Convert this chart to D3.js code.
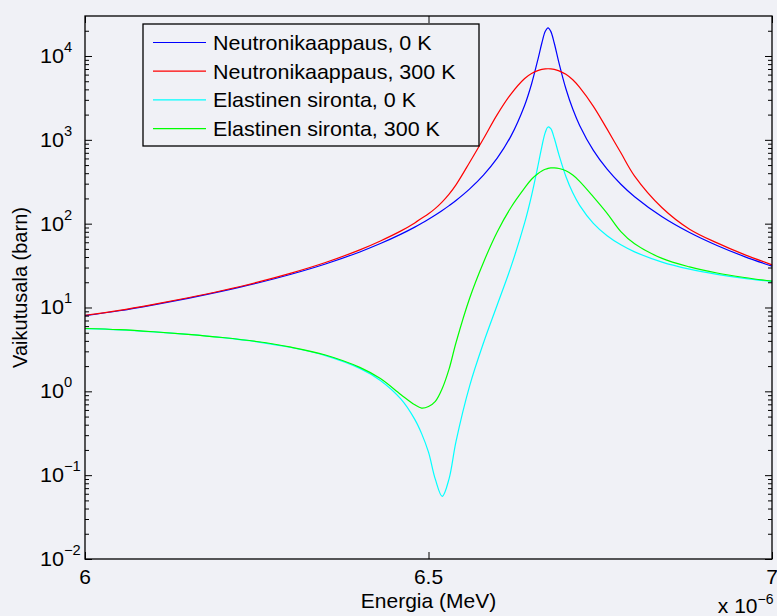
<!DOCTYPE html>
<html>
<head>
<meta charset="utf-8">
<script src="https://cdn.jsdelivr.net/npm/d3@7/dist/d3.min.js"></script>
<style>
  body { margin: 0; background: #f0f1f6; }
  svg { display: block; font-family: "Liberation Sans", Arial, Helvetica, sans-serif; }
</style>
</head>
<body>
<svg id="chart" width="777" height="616"></svg>
<script>
// energy in units of 1e-6 MeV (axis multiplier shown bottom right)
const energy = [6.00, 6.05, 6.10, 6.15, 6.20, 6.25, 6.30, 6.35, 6.40, 6.43, 6.46, 6.48, 6.49,
  6.50, 6.51, 6.52, 6.53, 6.54, 6.56, 6.58, 6.60, 6.62, 6.64, 6.65, 6.66, 6.665, 6.67, 6.674,
  6.678, 6.683, 6.69, 6.70, 6.71, 6.72, 6.74, 6.76, 6.78, 6.80, 6.84, 6.88, 6.92, 6.96, 7.00];

// cross sections in barn
const captureCold = [8.0, 9.14, 10.76, 12.86, 15.65, 19.47, 24.93, 33.06, 46.0, 57.9, 75.0, 91.0, 101.1,
  112.9, 126.9, 143.7, 164.1, 189.1, 260, 379.7, 605, 1108, 2591, 4639, 9637, 14301, 19689, 21700,
  19678, 14281, 8216, 4067, 2329, 1487, 747.7, 446, 295.3, 209.5, 120.8, 78.4, 54.9, 40.5, 31.1];

const captureHot = [8.08, 9.24, 10.90, 13.07, 15.95, 19.94, 25.7, 34.4, 48.7, 62.2, 82, 102, 116,
  131, 152, 182, 225, 290, 540, 1030, 2000, 3520, 5400, 6200, 6740, 6920, 7020, 7050,
  7020, 6920, 6650, 6050, 5200, 4220, 2510, 1340, 700, 370, 155, 86, 59.0, 42.7, 32.3];

const elasticCold = [5.6, 5.42, 5.12, 4.77, 4.37, 3.90, 3.33, 2.67, 1.88, 1.35, 0.806, 0.463, 0.313,
  0.188, 0.089, 0.056, 0.091, 0.251, 1.17, 3.77, 10.7, 30.5, 102.9, 216.4, 522, 831, 1226, 1424,
  1360, 1051, 658, 366, 233.6, 165.5, 100.9, 71.8, 55.9, 46.1, 34.8, 28.7, 24.9, 22.3, 20.46];

const elasticHot = [5.62, 5.44, 5.14, 4.79, 4.39, 3.93, 3.36, 2.71, 1.93, 1.42, 0.91, 0.69, 0.632,
  0.66, 0.76, 1.08, 1.85, 3.8, 13.0, 34.5, 79.6, 156, 267, 339, 400, 425, 445, 457,
  463, 463, 455, 428, 380, 320, 209, 133, 80.5, 57.5, 38.5, 30.5, 25.8, 22.8, 20.6];

const seriesNames = ["Neutronikaappaus, 0 K", "Neutronikaappaus, 300 K",
  "Elastinen sironta, 0 K", "Elastinen sironta, 300 K"];
const seriesValues = [captureCold, captureHot, elasticCold, elasticHot];
const seriesColors = ["#0000ff", "#ff0000", "#00ffff", "#00ff00"];

const yTickExponents = [-2, -1, 0, 1, 2, 3, 4];
const xTickValues = [6, 6.5, 7];
const xTickLabels = ["6", "6.5", "7"];

const W = 777, H = 616;
const margin = {top: 16, right: 5, bottom: 57, left: 85};
const innerLeft = margin.left, innerRight = W - margin.right;
const innerTop = margin.top, innerBottom = H - margin.bottom;

const svg = d3.select("#chart");

const x = d3.scaleLinear().domain([6, 7]).range([innerLeft, innerRight]);
const y = d3.scaleLog().domain([1e-2, 3e4]).range([innerBottom, innerTop]);

// curves
const line = d3.line()
  .x(d => x(d[0]))
  .y(d => y(d[1]))
  .curve(d3.curveCatmullRom.alpha(0.5));

seriesValues.forEach(function(vals, i) {
  svg.append("path")
    .datum(energy.map((e, j) => [e, vals[j]]))
    .attr("fill", "none")
    .attr("stroke", seriesColors[i])
    .attr("stroke-width", 1.2)
    .attr("d", line);
});

// ticks, all pointing inwards on the four sides
const majorVals = yTickExponents.map(e => Math.pow(10, e));
const minorVals = [];
yTickExponents.forEach(function(e) {
  for (let m = 2; m <= 9; m++) {
    const v = m * Math.pow(10, e);
    if (v < 3e4) minorVals.push(v);
  }
});

function tickAxis(axis, tx, ty) {
  const g = svg.append("g")
    .attr("transform", "translate(" + tx + "," + ty + ")")
    .call(axis);
  g.select(".domain").remove();
  g.selectAll("line").attr("stroke", "#000").attr("stroke-width", 1);
  return g;
}

tickAxis(d3.axisLeft(y).tickValues(majorVals).tickSize(-7).tickFormat(""), innerLeft, 0);
tickAxis(d3.axisLeft(y).tickValues(minorVals).tickSize(-4).tickFormat(""), innerLeft, 0);
tickAxis(d3.axisRight(y).tickValues(majorVals).tickSize(-7).tickFormat(""), innerRight, 0);
tickAxis(d3.axisRight(y).tickValues(minorVals).tickSize(-4).tickFormat(""), innerRight, 0);
tickAxis(d3.axisBottom(x).tickValues(xTickValues).tickSize(-7).tickFormat(""), 0, innerBottom);
tickAxis(d3.axisTop(x).tickValues(xTickValues).tickSize(-7).tickFormat(""), 0, innerTop);

// box
svg.append("rect")
  .attr("x", innerLeft).attr("y", innerTop)
  .attr("width", innerRight - innerLeft).attr("height", innerBottom - innerTop)
  .attr("fill", "none").attr("stroke", "#000").attr("stroke-width", 1.3);

// text drawn slightly wider, like the original export
function wideText(sel, tx, ty, sx) {
  return sel.append("text")
    .attr("transform", "translate(" + tx + "," + ty + ") scale(" + sx + ",1)");
}

// y tick labels 10^n
yTickExponents.forEach(function(e) {
  const yy = y(Math.pow(10, e));
  wideText(svg, 64, yy + 7, 1.08)
    .attr("text-anchor", "end")
    .attr("font-size", 20)
    .text("10");
  wideText(svg, 64, yy - 4, 1.05)
    .attr("font-size", 14)
    .text(e < 0 ? "\u2212" + (-e) : String(e));
});

// x tick labels
xTickValues.forEach(function(v, i) {
  wideText(svg, x(v), 584, 1.05)
    .attr("text-anchor", "middle")
    .attr("font-size", 20)
    .text(xTickLabels[i]);
});

// multiplier
wideText(svg, 757.5, 612.5, 1.05)
  .attr("text-anchor", "end")
  .attr("font-size", 20)
  .text("x 10");
wideText(svg, 757.5, 603.5, 1.0)
  .attr("font-size", 14)
  .text("\u22126");

// axis labels
wideText(svg, (innerLeft + innerRight) / 2, 608, 1.05)
  .attr("text-anchor", "middle")
  .attr("font-size", 20)
  .text("Energia (MeV)");

svg.append("text")
  .attr("transform", "translate(27," + ((innerTop + innerBottom) / 2) + ") rotate(-90)")
  .attr("text-anchor", "middle")
  .attr("font-size", 20)
  .text("Vaikutusala (barn)");

// legend
const legend = svg.append("g");
legend.append("rect")
  .attr("x", 143).attr("y", 24)
  .attr("width", 336).attr("height", 122)
  .attr("fill", "#f0f1f6")
  .attr("stroke", "#000").attr("stroke-width", 1.3);

seriesNames.forEach(function(name, i) {
  const ry = 42.5 + i * 28.7;
  legend.append("line")
    .attr("x1", 153).attr("x2", 206)
    .attr("y1", ry).attr("y2", ry)
    .attr("stroke", seriesColors[i])
    .attr("stroke-width", 1.2);
  wideText(legend, 213, ry + 7.5, 1.075)
    .attr("font-size", 20)
    .text(name);
});
</script>
</body>
</html>
